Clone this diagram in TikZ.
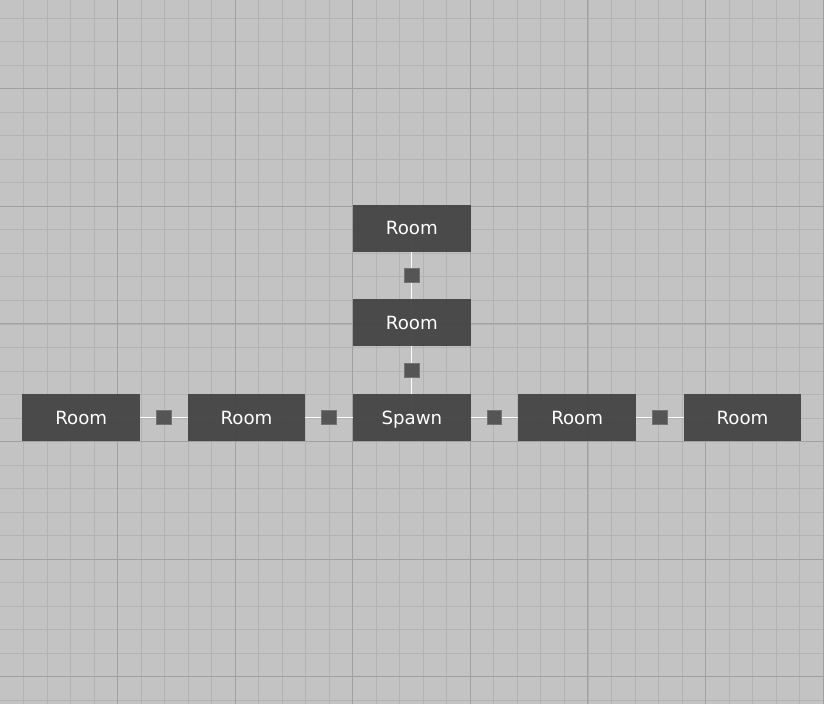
\documentclass[tikz,border=0pt]{standalone}
\usepackage{fontspec}
\setsansfont{DejaVu Sans}
\usepackage{xcolor}
\usetikzlibrary{positioning}
\definecolor{canvas}{RGB}{195,195,195}
\definecolor{gridminor}{RGB}{179,179,179}
\definecolor{gridmajor}{RGB}{160,160,160}
\definecolor{roomfill}{RGB}{68,68,68}
\definecolor{doorfill}{RGB}{85,85,85}
\definecolor{doorline}{RGB}{115,115,115}
\pgfdeclarelayer{back}
\pgfdeclarelayer{links}
\pgfsetlayers{back,links,main}

\begin{document}
\begin{tikzpicture}[
  font=\sffamily\fontsize{11}{13}\selectfont,
  node distance=1cm,
  room/.style={fill=roomfill, fill opacity=0.95, text opacity=1,
               text=white, minimum width=2.5cm, minimum height=1cm,
               inner sep=0pt, text height=8pt, text depth=0pt},
  door/.style={fill=doorfill, draw=doorline, line width=0.6pt,
               minimum size=0.31cm, inner sep=0pt},
  link/.style={draw=white, line width=0.6pt}
]
\useasboundingbox (-7.498,-5.580) rectangle (10.019,9.386);
\node[room, anchor=south west] (spawn) at (0,0) {Spawn};
\node[room, right=of spawn] (east1) {Room};
\node[room, right=of east1] (east2) {Room};
\node[room, left=of spawn] (west1) {Room};
\node[room, left=of west1] (west2) {Room};
\node[room, above=of spawn] (north1) {Room};
\node[room, above=of north1] (north2) {Room};

\begin{pgfonlayer}{back}
  \fill[canvas] (-7.498,-5.580) rectangle (10.019,9.386);
  \draw[gridminor, line width=0.5pt, step=0.5cm]
    (-7.498,-5.580) grid (10.019,9.386);
  \draw[gridmajor, line width=0.6pt, step=2.5cm]
    (-7.498,-5.580) grid (10.019,9.386);
\end{pgfonlayer}

\begin{pgfonlayer}{links}
  \draw[link] (spawn.center) -- (east1.center) node[midway, door] (door-e1) {};
  \draw[link] (east1.center) -- (east2.center) node[midway, door] (door-e2) {};
  \draw[link] (spawn.center) -- (west1.center) node[midway, door] (door-w1) {};
  \draw[link] (west1.center) -- (west2.center) node[midway, door] (door-w2) {};
  \draw[link] (spawn.center) -- (north1.center) node[midway, door] (door-n1) {};
  \draw[link] (north1.center) -- (north2.center) node[midway, door] (door-n2) {};
\end{pgfonlayer}
\end{tikzpicture}
\end{document}
